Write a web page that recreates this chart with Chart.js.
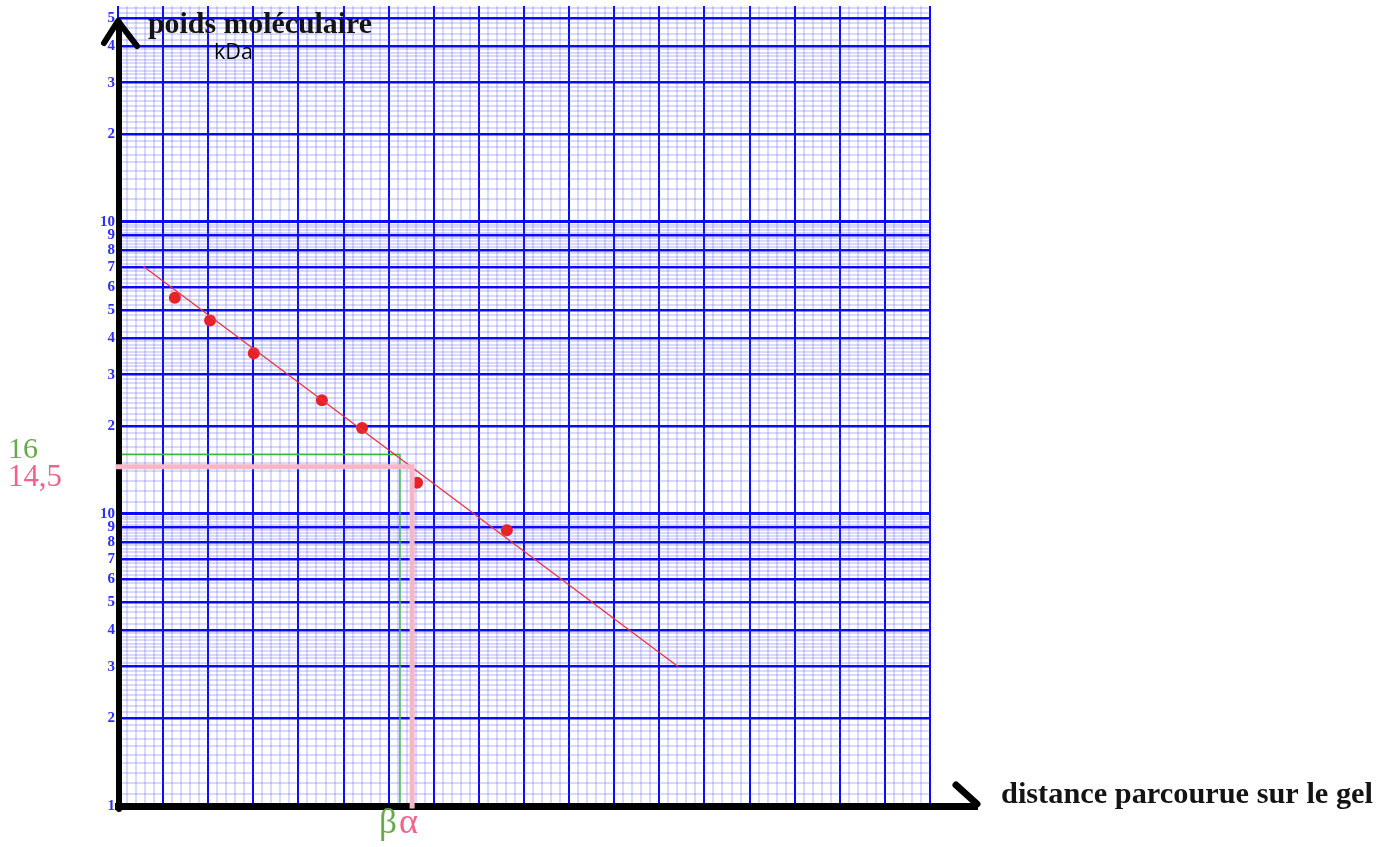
<!DOCTYPE html>
<html>
<head>
<meta charset="utf-8">
<script src="https://cdn.jsdelivr.net/npm/chart.js@4.4.1/dist/chart.umd.min.js"></script>
<style>
  html, body { margin: 0; padding: 0; background: #ffffff; }
  #wrap { position: relative; width: 1394px; height: 847px; }
</style>
</head>
<body>
<div id="wrap"><canvas id="c" width="1394" height="847"></canvas></div>
<script>
// ---- data ----
const distances = [1.26, 2.04, 3.01, 4.52, 5.41, 6.63, 8.62];      // distance parcourue (grid units)
const weights   = [55, 46, 35.5, 24.5, 19.7, 12.8, 8.8];            // poids moléculaire (kDa)
const fitX      = [0.56, 12.42];                                     // fitted line ends
const fitY      = [70.5, 3.0];
const guideBeta  = { x: 6.25, y: 16 };     // green (β)
const guideAlpha = { x: 6.52, y: 14.5 };   // pink (α)
const xRange = [0, 18];
const yRange = [1, 549];
const yMajorMantissas = [1, 2, 3, 4, 5, 6, 7, 8, 9];

// grid tick values
const xTicks = [];
for (let i = 0; i <= 90; i++) xTicks.push(Math.round(i * 2) / 10);
const yTicks = [];
for (let e = 0; e < 3; e++) {
  const b = Math.pow(10, e);
  let m = 1;
  while (m < 10 - 1e-9) {
    const v = Math.round(m * b * 1000) / 1000;
    if (v <= yRange[1]) yTicks.push(v);
    m = Math.round((m + (m < 4 - 1e-9 ? 0.1 : 0.2)) * 10) / 10;
  }
}

function mantissa(v) {
  const e = Math.floor(Math.log10(v) + 1e-9);
  return v / Math.pow(10, e);
}
function isMajorY(v) {
  const m = mantissa(v);
  return yMajorMantissas.some(k => Math.abs(m - k) < 1e-6);
}
function isDecade(v) { return Math.abs(mantissa(v) - 1) < 1e-6; }
function isMajorX(v) { return Math.abs(v - Math.round(v)) < 1e-6; }

const GREEN = '#3cb44a', GREEN_TXT = '#6aa84f';
const PINK = '#f7b6c8', PINK_TXT = '#f0648c';

function fitFont(ctx, text, weight, family, width) {
  ctx.font = weight + ' 100px ' + family;
  const w = ctx.measureText(text).width;
  return 100 * width / w;
}
function drawText(ctx, text, x, y, width, weight, family, color) {
  const s = fitFont(ctx, text, weight, family, width);
  ctx.font = weight + ' ' + s.toFixed(2) + 'px ' + family;
  ctx.fillStyle = color;
  ctx.textAlign = 'left';
  ctx.textBaseline = 'alphabetic';
  ctx.fillText(text, x, y);
}

const axesPlugin = {
  id: 'blackAxes',
  afterDatasetDraw(chart, args) {
    if (args.index !== 3) return;   // draw right after the green guide (drawn first)
    const ctx = chart.ctx;
    const ca = chart.chartArea;
    ctx.save();
    ctx.strokeStyle = '#000';
    ctx.lineCap = 'round';
    ctx.lineJoin = 'round';
    // y axis
    ctx.lineWidth = 6;
    ctx.beginPath();
    ctx.moveTo(ca.left + 1, ca.bottom + 3);
    ctx.lineTo(ca.left + 1, 22);
    ctx.stroke();
    ctx.beginPath();
    ctx.moveTo(104, 43);
    ctx.lineTo(118, 21);
    ctx.lineTo(137, 46);
    ctx.stroke();
    // x axis
    ctx.lineWidth = 7;
    ctx.lineCap = 'butt';
    ctx.beginPath();
    ctx.moveTo(ca.left - 3, ca.bottom + 0.5);
    ctx.lineTo(978, ca.bottom + 0.5);
    ctx.stroke();
    ctx.lineCap = 'round';
    ctx.beginPath();
    ctx.moveTo(956, 785);
    ctx.lineTo(977, 804);
    ctx.stroke();
    ctx.restore();
  },
  afterDraw(chart) {
    const ctx = chart.ctx;
    const y = chart.scales.y;
    ctx.save();
    drawText(ctx, 'poids moléculaire', 148, 33, 224, 'bold', '"Liberation Serif", serif', '#141414');
    drawText(ctx, 'kDa', 214, 59, 39, 'normal', '"Open Sans", sans-serif', '#000');
    drawText(ctx, 'distance parcourue sur le gel', 1001, 803, 372, 'bold', '"Liberation Serif", serif', '#141414');
    drawText(ctx, String(guideBeta.y), 8, y.getPixelForValue(guideBeta.y) + 4, 30, 'normal', '"Liberation Serif", serif', GREEN_TXT);
    drawText(ctx, String(guideAlpha.y).replace('.', ','), 8, y.getPixelForValue(guideAlpha.y) + 19, 54, 'normal', '"Liberation Serif", serif', PINK_TXT);
    drawText(ctx, 'β', 379, 833, 18, 'normal', '"Liberation Serif", serif', GREEN_TXT);
    drawText(ctx, 'α', 399, 833, 19, 'normal', '"Liberation Serif", serif', PINK_TXT);
    ctx.restore();
  }
};

new Chart(document.getElementById('c'), {
  type: 'scatter',
  data: {
    datasets: [
      { // 0: pink guide (on top)
        data: [{ x: xRange[0], y: guideAlpha.y }, { x: guideAlpha.x, y: guideAlpha.y }, { x: guideAlpha.x, y: yRange[0] }],
        showLine: true, borderColor: PINK, borderWidth: 5, pointRadius: 0,
        borderCapStyle: 'square', borderJoinStyle: 'miter', clip: false
      },
      { // 1: fitted line
        data: fitX.map((x, i) => ({ x, y: fitY[i] })),
        showLine: true, borderColor: '#e8353a', borderWidth: 1.3, pointRadius: 0
      },
      { // 2: measured points
        data: distances.map((x, i) => ({ x, y: weights[i] })),
        pointRadius: 6, pointBackgroundColor: '#e82328', pointBorderWidth: 0, showLine: false
      },
      { // 3: green guide
        data: [{ x: xRange[0], y: guideBeta.y }, { x: guideBeta.x, y: guideBeta.y }, { x: guideBeta.x, y: yRange[0] }],
        showLine: true, borderColor: GREEN, borderWidth: 1.5, pointRadius: 0, clip: false
      }
    ]
  },
  options: {
    responsive: false,
    devicePixelRatio: 1,
    animation: false,
    events: [],
    layout: { padding: { top: 6, right: 464, left: 0, bottom: 0 } },
    plugins: { legend: { display: false }, tooltip: { enabled: false }, title: { display: false } },
    scales: {
      x: {
        type: 'linear', min: xRange[0], max: xRange[1],
        afterBuildTicks: s => { s.ticks = xTicks.map(v => ({ value: v })); },
        afterFit: s => { s.height = 41; s.paddingLeft = 0; s.paddingRight = 0; },
        ticks: { display: false },
        border: { display: false },
        grid: {
          drawTicks: false,
          color: c => isMajorX(c.tick.value) ? '#0a0aff' : 'rgba(80,80,255,0.22)',
          lineWidth: 2
        }
      },
      y: {
        type: 'logarithmic', min: yRange[0], max: yRange[1],
        afterBuildTicks: s => { s.ticks = yTicks.filter(v => v <= yRange[1]).map(v => ({ value: v })); },
        afterFit: s => { s.width = 118; s.paddingTop = 0; s.paddingBottom = 0; },
        border: { display: false },
        ticks: {
          autoSkip: false,
          padding: 3,
          color: '#2f2fff',
          font: { family: '"Liberation Serif", serif', weight: 'bold', size: 15 },
          callback: v => {
            if (!isMajorY(v)) return '';
            if (isDecade(v)) return v === 1 ? '1' : '10';
            return String(Math.round(mantissa(v)));
          }
        },
        grid: {
          drawTicks: false,
          color: c => isMajorY(c.tick.value) ? '#0a0aff' : 'rgba(80,80,255,0.22)',
          lineWidth: c => isDecade(c.tick.value) ? 3 : (isMajorY(c.tick.value) ? 2.5 : 2)
        }
      }
    }
  },
  plugins: [axesPlugin]
});
</script>
</body>
</html>
